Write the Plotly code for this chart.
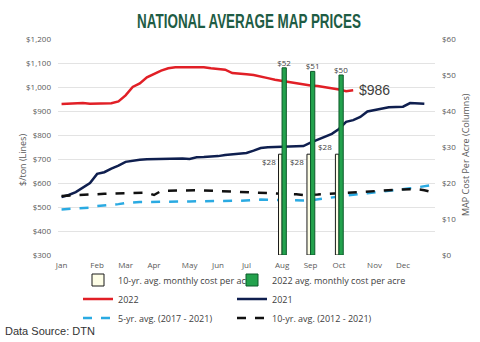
import plotly.graph_objects as go

# Weekly index (0 = first week of January)
weeks_full = list(range(53))
weeks_2021 = list(range(52))
weeks_2022 = list(range(42))

# Month tick labels at the first week of each month
month_weeks = [0, 5, 9, 13, 18, 22, 26, 31, 35, 39, 44, 48]
month_names = ["Jan", "Feb", "Mar", "Apr", "May", "Jun",
               "Jul", "Aug", "Sep", "Oct", "Nov", "Dec"]

# $/ton weekly prices
price_2022 = [929, 930, 930, 933, 930, 931, 931, 932, 940, 965,
              1000, 1015, 1040, 1055, 1068, 1078, 1082, 1082, 1083, 1083,
              1082, 1078, 1075, 1072, 1058, 1054, 1053, 1050, 1042, 1037,
              1030, 1025, 1021, 1015, 1010, 1006, 1004, 1000, 997, 990,
              982, 986]
price_2021 = [542, 550, 562, 580, 600, 638, 645, 660, 672, 688,
              694, 697, 699, 700, 701, 701, 701, 702, 700, 707,
              708, 709, 712, 717, 720, 721, 725, 735, 746, 749,
              750, 750, 751, 751, 754, 768, 780, 795, 805, 825,
              855, 862, 875, 898, 905, 910, 916, 917, 918, 933,
              932, 930]
avg_5yr = [490, 491, 492, 493, 497, 504, 506, 508, 512, 517,
           520, 521, 521, 522, 522, 522, 522, 523, 523, 524,
           525, 525, 525, 525, 526, 526, 528, 532, 531, 530,
           529, 529, 528, 528, 527, 528, 532, 538, 542, 546,
           550, 553, 555, 557, 560, 563, 566, 570, 574, 578,
           582, 586, 591]
avg_10yr = [546, 548, 550, 552, 554, 555, 555, 556, 557, 558,
            560, 562, 560, 550, 567, 568, 569, 570, 571, 570,
            569, 568, 567, 566, 564, 562, 562, 561, 560, 560,
            559, 558, 556, 553, 550, 550, 552, 554, 556, 558,
            560, 562, 563, 565, 567, 569, 571, 572, 573, 574,
            574, 570, 562]

# Monthly cost per acre (columns)
bar_weeks = [31, 35, 39]
cost_10yr = [28, 28, 28]
cost_2022 = [52, 51, 50]

left_ticks = list(range(300, 1201, 100))
right_ticks = list(range(0, 61, 10))

TICK = "#595959"
TXT = "#404040"
FONT = "Open Sans, Noto Sans, sans-serif"
ARIAL = "Liberation Sans, Arial, sans-serif"

# Plot-area geometry in pixels, used to place paper-referenced items
W, H = 480, 342
L, R, T, B = 58, 45, 39, 87
PW, PH = W - L - R, H - T - B


def px_x(x):
    return (x - L) / PW


def px_y(y):
    return (H - B - y) / PH


fig = go.Figure()

fig.add_trace(go.Bar(
    x=bar_weeks, y=cost_10yr, yaxis="y2", width=0.5, offset=-0.5,
    marker=dict(color="#fdfde6", line=dict(color="#1a1a1a", width=1)),
    name="10-yr. avg. monthly cost per acre", legend="legend",
))
fig.add_trace(go.Bar(
    x=bar_weeks, y=cost_2022, yaxis="y2", width=0.6, offset=0,
    marker=dict(color="#23a24d", line=dict(color="#0d5a2a", width=1)),
    text=[f"${v}" for v in cost_2022], textposition="outside",
    constraintext="none", cliponaxis=False,
    textfont=dict(size=8, color=TXT, family=FONT),
    name="2022 avg. monthly cost per acre", legend="legend2",
))

fig.add_trace(go.Scatter(
    x=weeks_2022, y=price_2022, mode="lines",
    line=dict(color="#e11f26", width=2.5),
    name="2022", legend="legend",
))
fig.add_trace(go.Scatter(
    x=weeks_2021, y=price_2021, mode="lines",
    line=dict(color="#0f1f4f", width=2.5),
    name="2021", legend="legend2",
))
fig.add_trace(go.Scatter(
    x=weeks_full, y=avg_5yr, mode="lines",
    line=dict(color="#2aaae2", width=2.5, dash="dash"),
    name="5-yr. avg. (2017 - 2021)", legend="legend",
))
fig.add_trace(go.Scatter(
    x=weeks_full, y=avg_10yr, mode="lines",
    line=dict(color="#111111", width=2.5, dash="dash"),
    name="10-yr. avg. (2012 - 2021)", legend="legend2",
))

annotations = []
# Value labels beside the 10-yr average columns
label_anchor = ["top", "top", "bottom"]
for wk, v, anc in zip(bar_weeks, cost_10yr, label_anchor):
    annotations.append(dict(
        x=wk - 0.5, y=v, xref="x", yref="y2", text=f"${v}",
        showarrow=False, xanchor="right", yanchor=anc, xshift=-1,
        font=dict(size=8, color=TXT, family=FONT),
    ))
# Latest 2022 price
annotations.append(dict(
    x=weeks_2022[-1], y=price_2022[-1], xref="x", yref="y",
    text=f"${price_2022[-1]}", showarrow=False, xanchor="left",
    yanchor="middle", xshift=4,
    font=dict(size=14, color=TXT, family=ARIAL),
))
# Axis titles
annotations.append(dict(
    x=px_x(22), y=px_y(160), xref="paper", yref="paper",
    xanchor="center", yanchor="middle",
    text="$/ton (Lines)", textangle=-90, showarrow=False,
    font=dict(size=9, color=TICK, family=FONT),
))
annotations.append(dict(
    x=px_x(465), y=px_y(155), xref="paper", yref="paper",
    xanchor="center", yanchor="middle",
    text="MAP Cost Per Acre (Columns)", textangle=-90,
    showarrow=False, font=dict(size=9, color=TICK, family=FONT),
))
# Data source note
annotations.append(dict(
    x=px_x(3), y=px_y(331), xref="paper", yref="paper", xanchor="left",
    yanchor="middle", text="Data Source: DTN", showarrow=False,
    font=dict(size=11, color="#333333", family=ARIAL),
))

legend_common = dict(
    orientation="v", tracegroupgap=0, bgcolor="rgba(0,0,0,0)",
    yanchor="middle", xanchor="left", y=px_y(299),
    font=dict(size=9, color=TXT, family=FONT), itemwidth=30,
)

fig.update_layout(
    width=W, height=H,
    margin=dict(l=L, r=R, t=T, b=B, autoexpand=False),
    paper_bgcolor="white", plot_bgcolor="white",
    barmode="overlay", showlegend=True,
    title=dict(
        text="<b>NATIONAL AVERAGE MAP PRICES</b>",
        x=249 / W, xanchor="center", y=1 - 21 / H, yanchor="middle",
        xref="container", yref="container",
        font=dict(size=21, color="#1e5c44", family=ARIAL),
    ),
    xaxis=dict(
        range=[-0.5, 52.5], tickvals=month_weeks, ticktext=month_names,
        showgrid=False, zeroline=False, showline=False, ticks="",
        ticklabelstandoff=4,
        tickfont=dict(size=8, color=TICK, family=FONT),
    ),
    yaxis=dict(
        range=[300, 1200], tickvals=left_ticks,
        ticktext=[f"${v:,}" for v in left_ticks],
        showgrid=True, gridcolor="#e3e3e3", gridwidth=1,
        zeroline=False, showline=False, ticks="", ticklabelstandoff=6,
        tickfont=dict(size=8, color=TICK, family=FONT),
    ),
    yaxis2=dict(
        range=[0, 60], tickvals=right_ticks,
        ticktext=[f"${v}" for v in right_ticks],
        overlaying="y", side="right", showgrid=False, zeroline=False,
        showline=False, ticks="", ticklabelstandoff=6,
        tickfont=dict(size=8, color=TICK, family=FONT),
    ),
    legend=dict(x=px_x(78), **legend_common),
    legend2=dict(x=px_x(232), **legend_common),
    annotations=annotations,
)

# Condense the heading horizontally around its centre (narrow display face)
condense_title = """
var gd = document.getElementById('{plot_id}');
function condense() {
  var t = gd.querySelector('.gtitle');
  if (!t) { return; }
  t.removeAttribute('transform');
  var cx = parseFloat(t.getAttribute('x'));
  var len = t.getComputedTextLength();
  var s = 224 / len;
  t.setAttribute('transform',
    'translate(' + cx + ',0) scale(' + s + ',1) translate(' + (-cx) + ',0)');
}
condense();
gd.on('plotly_afterplot', condense);
"""

fig.write_html("out.html", post_script=condense_title)
